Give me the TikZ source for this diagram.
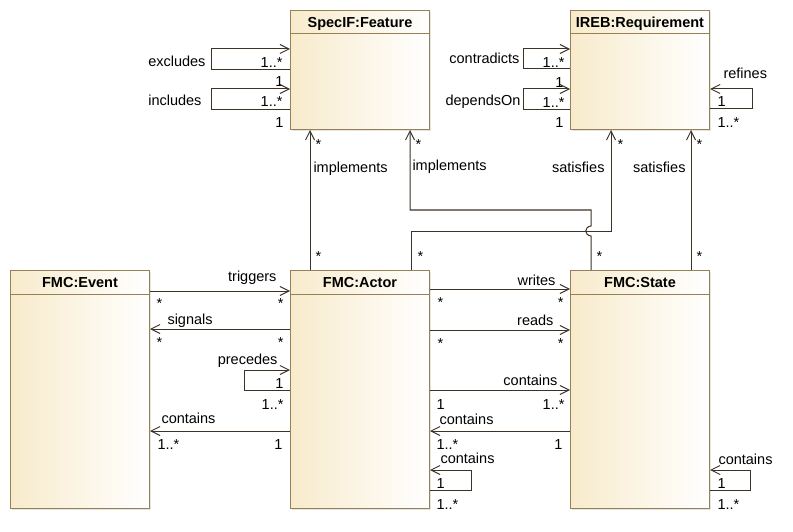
\documentclass[tikz,border=0pt]{standalone}
\usepackage{fontspec}
\setmainfont{Liberation Sans}
\usetikzlibrary{arrows.meta,positioning,calc,shadows}
\definecolor{classtan}{RGB}{248,235,204}
\definecolor{classborder}{RGB}{150,128,86}
\definecolor{linkcol}{RGB}{60,50,38}

\begin{document}
\begin{tikzpicture}[->,>={Straight Barb[length=9pt,width=9pt]},x=1pt,y=-1pt,
                    node distance=140pt,line width=1pt,color=linkcol,text=black,
                    every node/.style={font=\fontsize{14.5}{17}\selectfont,inner sep=0pt}]
  \tikzstyle{class}=[draw=classborder,left color=classtan,right color=white,
                     minimum width=139pt,minimum height=238pt,
                     drop shadow={shadow xshift=1.5pt,shadow yshift=-1.5pt,fill=black!20}]
  \tikzstyle{classname}=[anchor=base,font=\bfseries\fontsize{14.5}{17}\selectfont]

  \useasboundingbox (0,0) rectangle (793,532);

  \node[class,anchor=north west] (event) at (10,270) {};
  \node[class,right=of event]    (actor) {};
  \node[class,right=of actor]    (state) {};
  \node[class,minimum height=119pt,above=of actor] (feature) {};
  \node[class,minimum height=119pt,above=of state] (requirement) {};

  \node[classname] (event-name)       at ($(event.north)+(0,17.5)$)       {FMC:Event};
  \node[classname] (actor-name)       at ($(actor.north)+(0,17.5)$)       {FMC:Actor};
  \node[classname] (state-name)       at ($(state.north)+(0,17.5)$)       {FMC:State};
  \node[classname] (feature-name)     at ($(feature.north)+(0,18)$)       {SpecIF:Feature};
  \node[classname] (requirement-name) at ($(requirement.north)+(0,18)$)   {IREB:Requirement};

  \draw[-,classborder] ($(event.north west)+(0.5,24)$) -- ($(event.north east)+(-0.5,24)$);
  \draw[-,classborder] ($(actor.north west)+(0.5,24)$) -- ($(actor.north east)+(-0.5,24)$);
  \draw[-,classborder] ($(state.north west)+(0.5,24)$) -- ($(state.north east)+(-0.5,24)$);
  \draw[-,classborder] ($(feature.north west)+(0.5,24)$) -- ($(feature.north east)+(-0.5,24)$);
  \draw[-,classborder] ($(requirement.north west)+(0.5,24)$) -- ($(requirement.north east)+(-0.5,24)$);

  \draw ($(feature.north west)+(0,60)$) node[anchor=base east,xshift=-6pt,yshift=-17pt] {1}
     -- ++(-79,0) node[anchor=base east,xshift=-5pt,yshift=3pt] {excludes}
     |- ($(feature.north west)+(0,39)$) node[anchor=base east,xshift=-7pt,yshift=-19pt] {1..*};
  \draw ($(feature.north west)+(0,100)$) node[anchor=base east,xshift=-6pt,yshift=-18pt] {1}
     -- ++(-79,0) node[anchor=base east,xshift=-9pt,yshift=4pt] {includes}
     |- ($(feature.north west)+(0,79)$) node[anchor=base east,xshift=-7pt,yshift=-18pt] {1..*};

  \draw ($(requirement.north west)+(0,59)$) node[anchor=base east,xshift=-6pt,yshift=-19pt] {1}
     -- ++(-47,0) node[anchor=base east,xshift=-3pt,yshift=5pt] {contradicts}
     |- ($(requirement.north west)+(0,39)$) node[anchor=base east,xshift=-5pt,yshift=-19pt] {1..*};
  \draw ($(requirement.north west)+(0,100)$) node[anchor=base east,xshift=-6pt,yshift=-18pt] {1}
     -- ++(-47,0) node[anchor=base east,xshift=-2pt,yshift=4pt] {dependsOn}
     |- ($(requirement.north west)+(0,79)$) node[anchor=base east,xshift=-5pt,yshift=-19pt] {1..*};
  \draw ($(requirement.north east)+(0,99)$) node[anchor=base west,xshift=7pt,yshift=-19pt] {1..*}
     -- ++(42,0)
     |- ($(requirement.north east)+(0,79)$) node[anchor=base west,xshift=7pt,yshift=-18pt] {1}
                                            node[anchor=base west,xshift=13pt,yshift=10pt] {refines};

  \draw ($(actor.north west)+(20,0)$) node[anchor=base west,xshift=5pt,yshift=9pt] {*}
     -- ($(feature.south west)+(20,0)$) node[anchor=base west,xshift=5pt,yshift=-20pt] {*}
                                        node[anchor=base west,xshift=3pt,yshift=-42pt] {implements};
  \draw ($(state.north west)+(21,0)$) node[anchor=base west,xshift=5pt,yshift=9pt] {*}
     -- ++(0,-34) .. controls +(-7,-1) and +(-7,1) .. ++(0,-10)
     |- ($(feature.south west)+(120,80)$)
     -- ($(feature.south west)+(120,0)$) node[anchor=base west,xshift=5pt,yshift=-20pt] {*}
                                         node[anchor=base west,xshift=2pt,yshift=-41pt] {implements};
  \draw ($(actor.north west)+(121,0)$) node[anchor=base west,xshift=6pt,yshift=9pt] {*}
     |- ($(requirement.south west)+(41,101)$)
     -- ($(requirement.south west)+(41,0)$) node[anchor=base west,xshift=6pt,yshift=-20pt] {*}
                                            node[anchor=base east,xshift=-6pt,yshift=-43pt] {satisfies};
  \draw ($(state.north west)+(121,0)$) node[anchor=base west,xshift=5pt,yshift=9pt] {*}
     -- ($(requirement.south west)+(121,0)$) node[anchor=base west,xshift=5pt,yshift=-20pt] {*}
                                             node[anchor=base east,xshift=-5pt,yshift=-43pt] {satisfies};

  \draw ($(event.north east)+(0,21)$) node[anchor=base west,xshift=6pt,yshift=-17pt] {*}
     -- ($(actor.north west)+(0,21)$) node[anchor=base east,xshift=-13pt,yshift=10pt] {triggers}
                                      node[anchor=base east,xshift=-6pt,yshift=-17pt] {*};
  \draw ($(actor.north west)+(0,59)$) node[anchor=base east,xshift=-6pt,yshift=-18pt] {*}
     -- ($(event.north east)+(0,59)$) node[anchor=base west,xshift=17pt,yshift=5pt] {signals}
                                      node[anchor=base west,xshift=6pt,yshift=-18pt] {*};
  \draw ($(actor.north west)+(0,120)$) node[anchor=base east,xshift=-6pt,yshift=-19pt] {1..*}
     -- ++(-46,0)
     |- ($(actor.north west)+(0,100)$) node[anchor=base east,xshift=-6pt,yshift=-18pt] {1}
                                       node[anchor=base east,xshift=-12pt,yshift=6pt] {precedes};
  \draw ($(actor.north west)+(0,161)$) node[anchor=base east,xshift=-7pt,yshift=-18pt] {1}
     -- ($(event.north east)+(0,161)$) node[anchor=base west,xshift=11pt,yshift=8pt] {contains}
                                       node[anchor=base west,xshift=7pt,yshift=-18pt] {1..*};

  \draw ($(actor.north east)+(0,19)$) node[anchor=base west,xshift=7pt,yshift=-18pt] {*}
     -- ($(state.north west)+(0,19)$) node[anchor=base east,xshift=-14pt,yshift=4pt] {writes}
                                      node[anchor=base east,xshift=-6pt,yshift=-18pt] {*};
  \draw ($(actor.north east)+(0,60)$) node[anchor=base west,xshift=7pt,yshift=-18pt] {*}
     -- ($(state.north west)+(0,60)$) node[anchor=base east,xshift=-16pt,yshift=5pt] {reads}
                                      node[anchor=base east,xshift=-6pt,yshift=-18pt] {*};
  \draw ($(actor.north east)+(0,120)$) node[anchor=base west,xshift=6pt,yshift=-19pt] {1}
     -- ($(state.north west)+(0,120)$) node[anchor=base east,xshift=-12pt,yshift=5pt] {contains}
                                       node[anchor=base east,xshift=-5pt,yshift=-19pt] {1..*};
  \draw ($(state.north west)+(0,161)$) node[anchor=base east,xshift=-7pt,yshift=-18pt] {1}
     -- ($(actor.north east)+(0,161)$) node[anchor=base west,xshift=9pt,yshift=7pt] {contains}
                                       node[anchor=base west,xshift=6pt,yshift=-18pt] {1..*};

  \draw ($(actor.north east)+(0,220)$) node[anchor=base west,xshift=6pt,yshift=-19pt] {1..*}
     -- ++(41,0)
     |- ($(actor.north east)+(0,200)$) node[anchor=base west,xshift=6pt,yshift=-18pt] {1}
                                       node[anchor=base west,xshift=10pt,yshift=7pt] {contains};
  \draw ($(state.north east)+(0,220)$) node[anchor=base west,xshift=7pt,yshift=-19pt] {1..*}
     -- ++(40,0)
     |- ($(state.north east)+(0,200)$) node[anchor=base west,xshift=7pt,yshift=-18pt] {1}
                                       node[anchor=base west,xshift=8pt,yshift=6pt] {contains};
\end{tikzpicture}
\end{document}
